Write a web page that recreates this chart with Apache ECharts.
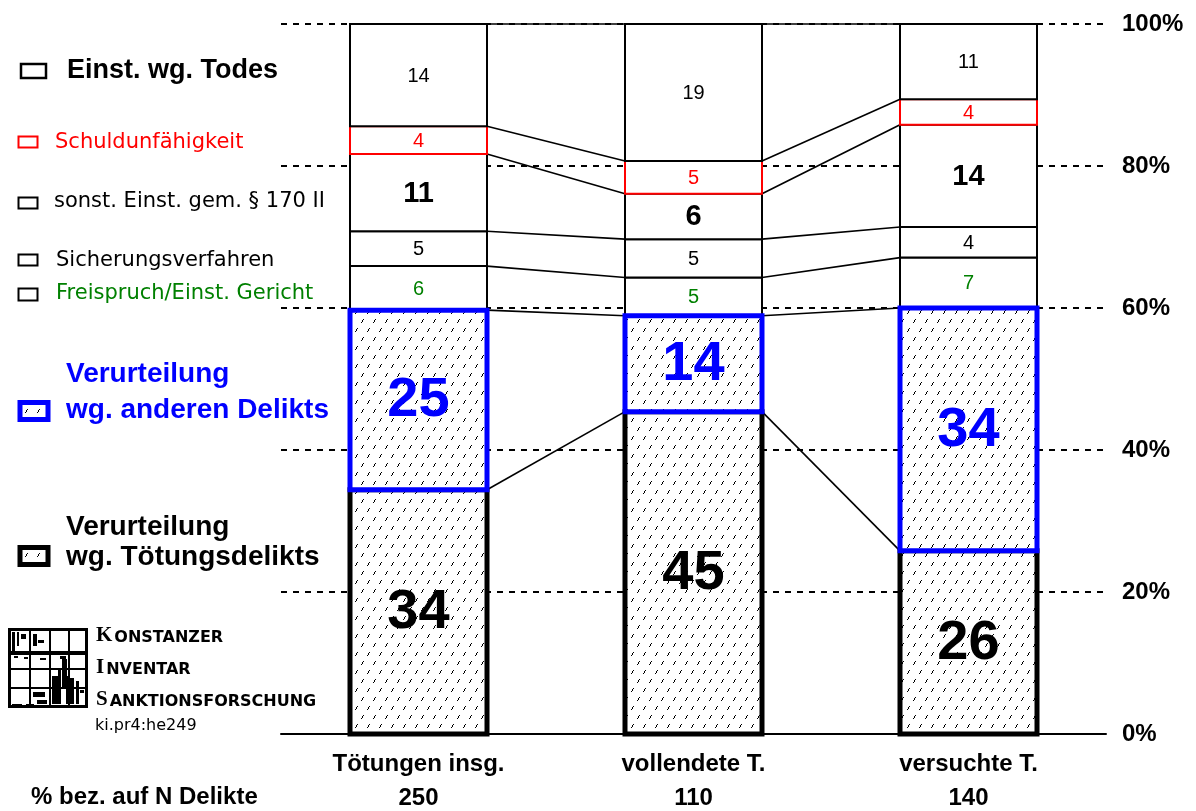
<!DOCTYPE html>
<html>
<head>
<meta charset="utf-8">
<script src="https://cdn.jsdelivr.net/npm/echarts@6/dist/echarts.min.js"></script>
<style>html,body{margin:0;padding:0;background:#fff}#c{width:1196px;height:811px}</style>
</head>
<body>
<div id="c"></div>
<script>
// ---------------- data ----------------
const categories = ['Tötungen insg.', 'vollendete T.', 'versuchte T.'];
const nDelikte = [250, 110, 140];
// segments, bottom to top (percent of N)
const toetungsdelikt = [34.4, 45.4, 25.8];
const anderesDelikt  = [25.3, 13.5, 34.2];
const freispruch     = [6.2, 5.4, 7.1];
const sicherung      = [4.9, 5.4, 4.3];
const sonstEinst     = [10.9, 6.4, 14.4];
const schuldunf      = [3.9, 4.6, 3.6];
const einstTodes     = [14.4, 19.3, 10.6];
const yTicks = [0, 20, 40, 60, 80, 100];
const legendLabels = [
  'Einst. wg. Todes',
  'Schuldunfähigkeit',
  'sonst. Einst. gem. § 170 II',
  'Sicherungsverfahren',
  'Freispruch/Einst. Gericht',
  'Verurteilung\nwg. anderen Delikts',
  'Verurteilung\nwg. Tötungsdelikts'
];
const footLabel = '% bez. auf N Delikte';

// ---------------- styling ----------------
const SANS = '"Liberation Sans", Arial, sans-serif';
const DV = '"DejaVu Sans", Verdana, sans-serif';
const RED = '#ff0000', BLUE = '#0000ff', GREEN = '#008000';
const BAR_RATIO = 137 / 275;

// hatch pattern (dashed diagonal lines)
const hatch = document.createElement('canvas');
hatch.width = 12; hatch.height = 18;
(function () {
  const c = hatch.getContext('2d');
  c.fillStyle = '#fff'; c.fillRect(0, 0, 12, 18);
  c.fillStyle = '#000';
  [[1, 13], [7, 4]].forEach(o => {
    const x = o[0], y = o[1];
    [[x, y + 3], [x + 1, y + 2], [x + 1, y + 1], [x + 2, y]].forEach(p => c.fillRect(p[0], p[1], 1, 1));
  });
})();
const hatchFill = { image: hatch, repeat: 'repeat' };

const SMALL = '20px ' + SANS;
const segmentDefs = [
  { name: 'Verurteilung wg. Tötungsdelikts', values: toetungsdelikt, hatched: true, stroke: '#000', lw: 5, font: 'bold 56px ' + SANS, color: '#000', z: 4 },
  { name: 'Verurteilung wg. anderen Delikts', values: anderesDelikt, hatched: true, stroke: BLUE, lw: 5, font: 'bold 56px ' + SANS, color: BLUE, z: 5 },
  { name: 'Freispruch/Einst. Gericht', values: freispruch, stroke: '#000', lw: 2, font: SMALL, color: GREEN, z: 2 },
  { name: 'Sicherungsverfahren', values: sicherung, stroke: '#000', lw: 2, font: SMALL, color: '#000', z: 2 },
  { name: 'sonst. Einst. gem. § 170 II', values: sonstEinst, stroke: '#000', lw: 2, font: 'bold 29px ' + SANS, color: '#000', z: 2 },
  { name: 'Schuldunfähigkeit', values: schuldunf, stroke: RED, lw: 2, font: SMALL, color: RED, z: 3 },
  { name: 'Einst. wg. Todes', values: einstTodes, stroke: '#000', lw: 2, font: SMALL, color: '#000', z: 3.5 }
];

// cumulative bases
const cum = categories.map(() => 0);
const boundaries = [];
segmentDefs.forEach(def => {
  def.data = def.values.map((v, i) => {
    const b = cum[i];
    cum[i] += v;
    return [i, b, cum[i], v];
  });
  boundaries.push(cum.slice());
});

const series = segmentDefs.map(def => ({
  type: 'custom',
  name: def.name,
  z: def.z,
  data: def.data,
  renderItem(params, api) {
    const ci = api.value(0);
    const p0 = api.coord([ci, api.value(1)]);
    const p1 = api.coord([ci, api.value(2)]);
    const bw = api.size([1, 0])[0] * BAR_RATIO;
    const x = p0[0] - bw / 2;
    return {
      type: 'group',
      children: [
        { type: 'rect', shape: { x: x, y: p1[1], width: bw, height: p0[1] - p1[1] },
          style: { fill: def.hatched ? hatchFill : '#fff', stroke: def.stroke, lineWidth: def.lw } },
        { type: 'text', x: p0[0], y: (p0[1] + p1[1]) / 2 + 1, z2: 10,
          style: { text: String(Math.round(api.value(3))), font: def.font, fill: def.color, align: 'center', verticalAlign: 'middle' } }
      ]
    };
  }
}));

// connector lines between neighbouring bars
const connectorData = [];
boundaries.forEach(b => {
  for (let i = 0; i < categories.length - 1; i++) connectorData.push([i, b[i], i + 1, b[i + 1]]);
});
series.push({
  type: 'custom',
  name: 'connectors',
  z: 1,
  data: connectorData,
  renderItem(params, api) {
    const a = api.coord([api.value(0), api.value(1)]);
    const b = api.coord([api.value(2), api.value(3)]);
    const hw = api.size([1, 0])[0] * BAR_RATIO / 2;
    return { type: 'line', shape: { x1: a[0] + hw, y1: a[1], x2: b[0] - hw, y2: b[1] },
      style: { stroke: '#000', lineWidth: 1.6 } };
  }
});

// ---------------- legend / logo graphics ----------------
const graphics = [];
function box(x, y, w, h, stroke, lw, fill) {
  graphics.push({ type: 'rect', shape: { x, y, width: w, height: h }, style: { fill: fill || '#fff', stroke, lineWidth: lw } });
}
function txt(x, y, text, font, color, align) {
  graphics.push({ type: 'text', x, y, style: { text, font, fill: color, align: align || 'left', verticalAlign: 'middle' } });
}
const LEG = '21px ' + DV;
box(21, 64, 25, 14, '#000', 2.5);        txt(67, 71, legendLabels[0], 'bold 27px ' + SANS, '#000');
box(18.5, 136.5, 19, 11, RED, 2);        txt(55, 143, legendLabels[1], LEG, RED);
box(18.5, 197.5, 19, 11, '#000', 2);     txt(54, 202, legendLabels[2], LEG, '#000');
box(18.5, 254.5, 19, 11, '#000', 2);     txt(56, 261, legendLabels[3], LEG, '#000');
box(18.5, 288.5, 19, 12, '#000', 2);     txt(56, 294, legendLabels[4], LEG, GREEN);
box(20, 402.5, 28, 17, BLUE, 5, hatchFill);
legendLabels[5].split('\n').forEach((t, k) => txt(66, 374 + k * 36, t, 'bold 28px ' + SANS, BLUE));
box(20, 547.5, 28, 17, '#000', 5, hatchFill);
legendLabels[6].split('\n').forEach((t, k) => txt(66, 527 + k * 30, t, 'bold 28px ' + SANS, '#000'));
txt(31, 797, footLabel, 'bold 24px ' + SANS, '#000');

// logo
box(9.5, 629.5, 77, 77, '#000', 3);
[[30, 629, 30, 706], [50, 629, 50, 706], [69, 629, 69, 706], [9, 669, 87, 669], [9, 688, 87, 688]].forEach(l =>
  graphics.push({ type: 'line', shape: { x1: l[0], y1: l[1], x2: l[2], y2: l[3] }, style: { stroke: '#000', lineWidth: 2 } }));
[[9, 651, 78, 4], [12, 632, 3, 19], [17, 632, 2, 14], [21, 634, 5, 5], [33, 634, 4, 12], [38, 640, 6, 3],
 [14, 656, 4, 2], [24, 657, 4, 2], [40, 658, 6, 2], [60, 656, 6, 3], [62, 659, 5, 30], [52, 676, 6, 28],
 [58, 670, 3, 34], [66, 676, 3, 28], [70, 678, 4, 26], [76, 681, 3, 23], [33, 692, 12, 5], [37, 700, 10, 4],
 [12, 704, 10, 2], [26, 704, 8, 2], [80, 690, 4, 3]].forEach(r =>
  graphics.push({ type: 'rect', shape: { x: r[0], y: r[1], width: r[2], height: r[3] }, style: { fill: '#000' } }));
[['K', 'ONSTANZER', 636], ['I', 'NVENTAR', 668], ['S', 'ANKTIONSFORSCHUNG', 700]].forEach(e =>
  graphics.push({ type: 'text', x: 96, y: e[2], style: {
    text: '{a|' + e[0] + '}{b|' + e[1] + '}', verticalAlign: 'middle', align: 'left',
    rich: { a: { font: 'bold 21px "Liberation Serif", serif', fill: '#000', verticalAlign: 'bottom' },
            b: { font: 'bold 16px ' + DV, fill: '#000', verticalAlign: 'bottom', padding: [0, 0, 1, 2] } } } }));
txt(95, 726, 'ki.pr4:he249', '16px ' + DV, '#000');

// ---------------- chart ----------------
const chart = echarts.init(document.getElementById('c'), null, { renderer: 'canvas' });
chart.setOption({
  animation: false,
  backgroundColor: '#fff',
  grid: { left: 281, right: 90, top: 24, bottom: 77, containLabel: false },
  xAxis: {
    type: 'category',
    data: categories,
    axisTick: { show: false },
    axisLine: { show: true, lineStyle: { color: '#000', width: 2 } },
    axisLabel: {
      margin: 13,
      interval: 0,
      formatter: (v, i) => '{a|' + v + '}\n{a|' + nDelikte[i] + '}',
      rich: { a: { fontFamily: SANS, fontWeight: 'bold', fontSize: 24, lineHeight: 34, color: '#000' } }
    },
    splitLine: { show: false }
  },
  yAxis: {
    type: 'value',
    position: 'right',
    min: yTicks[0], max: yTicks[yTicks.length - 1], interval: 20,
    axisLine: { show: false }, axisTick: { show: false },
    axisLabel: { margin: 16, formatter: '{value}%', fontFamily: SANS, fontWeight: 'bold', fontSize: 24, color: '#000' },
    splitLine: { show: true, lineStyle: { color: '#000', width: 2, type: [6, 6] } }
  },
  graphic: graphics,
  series: series
});
</script>
</body>
</html>
